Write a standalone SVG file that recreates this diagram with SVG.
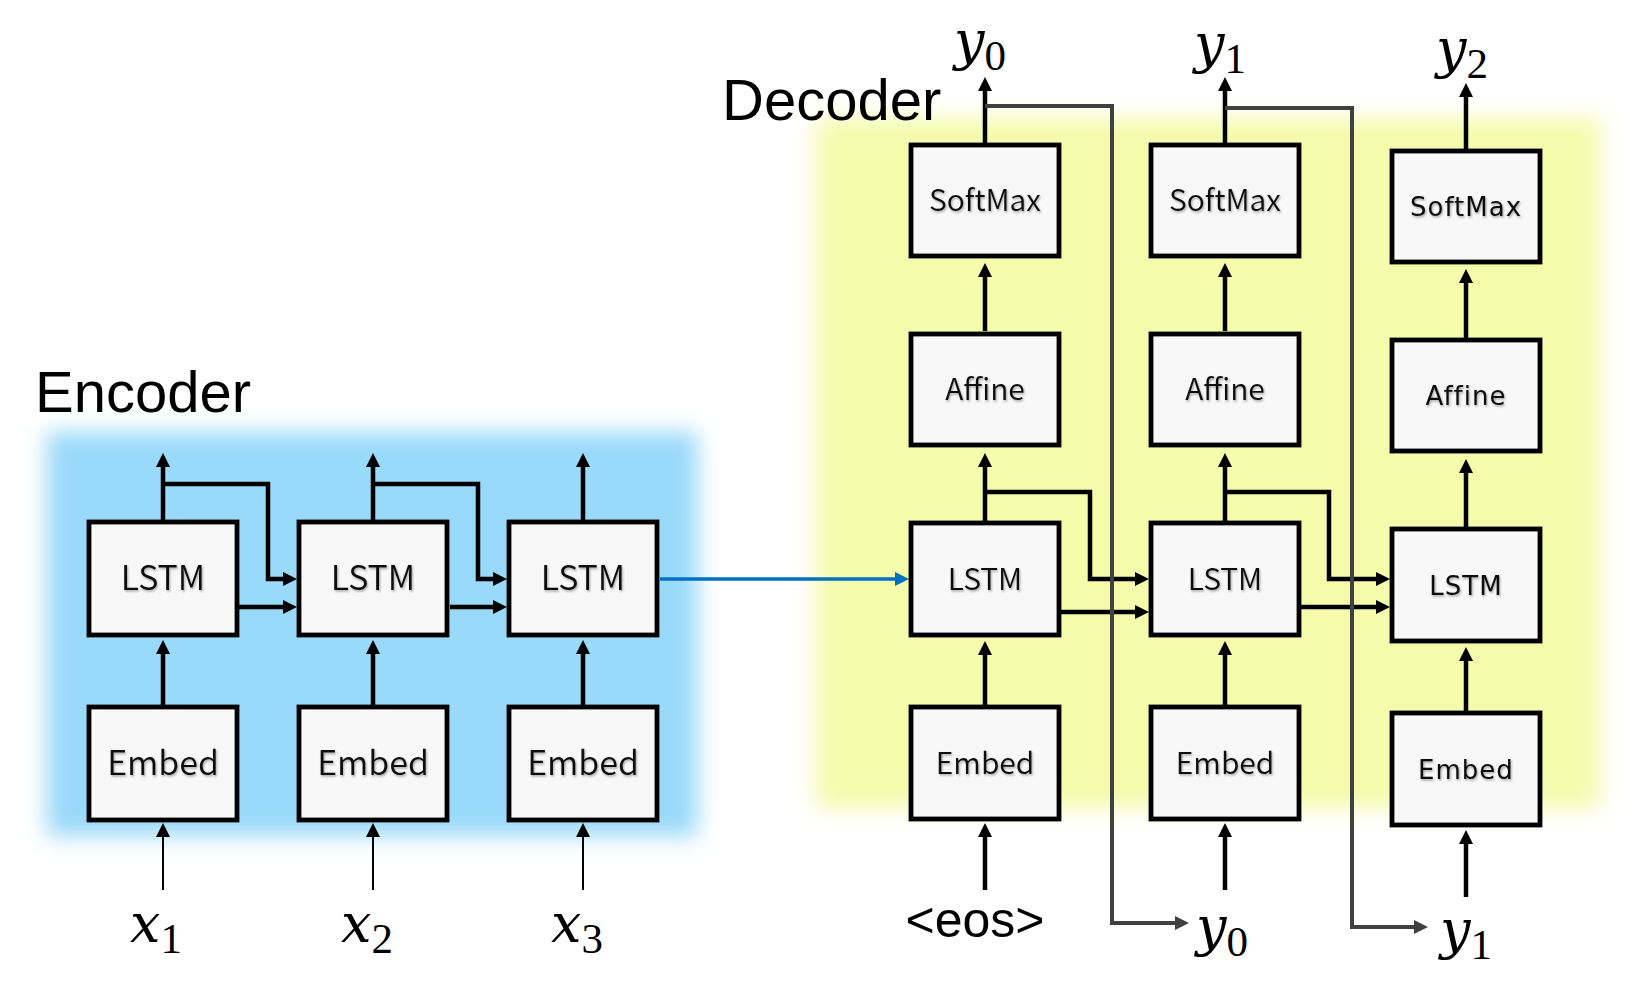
<svg xmlns="http://www.w3.org/2000/svg" width="1645" height="981" viewBox="0 0 1645 981">
<style>
.box{fill:#f8f8f8;stroke:#000;stroke-width:4.8}
.lbl{font-family:"Noto Sans CJK JP","Noto Sans",sans-serif;font-weight:350;fill:#111;text-anchor:middle;filter:url(#ts)}
.enc{font-size:34px}
.dec{font-size:30px}
.dec3{font-family:"DejaVu Sans","Liberation Sans",sans-serif;font-weight:400;font-size:26px;letter-spacing:1px}
.ar{fill:none;stroke:#000;stroke-width:4.5;marker-end:url(#ah)}
.thin{stroke-width:2}
.gray{fill:none;stroke:#404040;stroke-width:4;marker-end:url(#ahg)}
.blue{fill:none;stroke:#0070c0;stroke-width:3.5;marker-end:url(#ahb)}
.title{font-family:"Liberation Sans",Arial,sans-serif;font-size:58px;fill:#000}
.var{font-family:"DejaVu Serif","Liberation Serif",serif;font-style:italic;font-size:54px;fill:#000}
.sub{font-family:"Liberation Serif","DejaVu Serif",serif;font-style:normal;font-size:43px}
.eos{font-family:"Liberation Sans",Arial,sans-serif;font-size:50px;fill:#000;text-anchor:middle}
</style>
<defs>
<filter id="glow" x="-10%" y="-10%" width="120%" height="120%"><feGaussianBlur stdDeviation="11"/></filter>
<filter id="ts" x="-10%" y="-20%" width="120%" height="150%"><feDropShadow dx="1" dy="1.5" stdDeviation="1" flood-color="#000" flood-opacity="0.35"/></filter>
<marker id="ah" markerUnits="userSpaceOnUse" markerWidth="15" markerHeight="15" refX="4" refY="7" orient="auto"><path d="M0,0 L14,7 L0,14 z" fill="#000"/></marker>
<marker id="ahg" markerUnits="userSpaceOnUse" markerWidth="15" markerHeight="15" refX="4" refY="7" orient="auto"><path d="M0,0 L14,7 L0,14 z" fill="#404040"/></marker>
<marker id="ahb" markerUnits="userSpaceOnUse" markerWidth="15" markerHeight="15" refX="4" refY="7" orient="auto"><path d="M0,0 L14,7 L0,14 z" fill="#0070c0"/></marker>
</defs>
<rect width="1645" height="981" fill="#fff"/>
<g id="encoder-bg"><rect x="47" y="432" width="650" height="404" fill="#99d9f9" filter="url(#glow)"/></g>
<g id="decoder-bg"><rect x="816" y="118" width="784" height="690" fill="#f4fbab" filter="url(#glow)"/></g>
<text id="encoder-title" class="title" x="35" y="412">Encoder</text>
<text id="decoder-title" class="title" x="722" y="120">Decoder</text>

<g id="connectors">
<!-- encoder -->
<path class="ar" d="M163,522 V463"/>
<path class="ar" d="M373,522 V463"/>
<path class="ar" d="M583,522 V463"/>
<path class="ar" d="M163,705 V650"/>
<path class="ar" d="M373,705 V650"/>
<path class="ar" d="M583,705 V650"/>
<path class="ar thin" d="M163,890 V833"/>
<path class="ar thin" d="M373,890 V833"/>
<path class="ar thin" d="M583,890 V833"/>
<path class="ar" d="M163,484 H268 V579 H287"/>
<path class="ar" d="M239,607 H287"/>
<path class="ar" d="M373,484 H478 V579 H497"/>
<path class="ar" d="M450,607 H497"/>
<path class="blue" d="M660,579 H899"/>
<!-- decoder col1 -->
<path class="ar" d="M985,143 V87"/>
<path class="ar" d="M985,331 V273"/>
<path class="ar" d="M985,521 V463"/>
<path class="ar" d="M985,705 V651"/>
<path class="ar" d="M985,890 V833"/>
<path class="ar" d="M985,492 H1090 V579 H1139"/>
<path class="ar" d="M1060,612 H1139"/>
<!-- decoder col2 -->
<path class="ar" d="M1225,143 V87"/>
<path class="ar" d="M1225,331 V273"/>
<path class="ar" d="M1225,521 V463"/>
<path class="ar" d="M1225,705 V651"/>
<path class="ar" d="M1225,890 V833"/>
<path class="ar" d="M1225,492 H1329 V579 H1380"/>
<path class="ar" d="M1301,607 H1380"/>
<!-- decoder col3 -->
<path class="ar" d="M1466,149 V93"/>
<path class="ar" d="M1466,338 V279"/>
<path class="ar" d="M1466,527 V469"/>
<path class="ar" d="M1466,711 V657"/>
<path class="ar" d="M1466,897 V840"/>
<!-- feedback -->
<path class="gray" d="M985,106 H1112 V923 H1179"/>
<path class="gray" d="M1225,108 H1352 V927 H1418"/>
</g>

<g id="enc-lstm1"><rect class="box" x="89" y="522" width="148" height="113"/><text class="lbl enc" x="163" y="590">LSTM</text></g>
<g id="enc-lstm2"><rect class="box" x="299" y="522" width="148" height="113"/><text class="lbl enc" x="373" y="590">LSTM</text></g>
<g id="enc-lstm3"><rect class="box" x="509" y="522" width="148" height="113"/><text class="lbl enc" x="583" y="590">LSTM</text></g>
<g id="enc-embed1"><rect class="box" x="89" y="707" width="148" height="113"/><text class="lbl enc" x="163" y="775">Embed</text></g>
<g id="enc-embed2"><rect class="box" x="299" y="707" width="148" height="113"/><text class="lbl enc" x="373" y="775">Embed</text></g>
<g id="enc-embed3"><rect class="box" x="509" y="707" width="148" height="113"/><text class="lbl enc" x="583" y="775">Embed</text></g>

<g id="dec-softmax1"><rect class="box" x="911" y="145" width="148" height="111"/><text class="lbl dec" x="985" y="211">SoftMax</text></g>
<g id="dec-affine1"><rect class="box" x="911" y="334" width="148" height="111"/><text class="lbl dec" x="985" y="400">Affine</text></g>
<g id="dec-lstm1"><rect class="box" x="911" y="523" width="148" height="112"/><text class="lbl dec" x="985" y="590">LSTM</text></g>
<g id="dec-embed1"><rect class="box" x="911" y="707" width="148" height="112"/><text class="lbl dec" x="985" y="774">Embed</text></g>

<g id="dec-softmax2"><rect class="box" x="1151" y="145" width="148" height="111"/><text class="lbl dec" x="1225" y="211">SoftMax</text></g>
<g id="dec-affine2"><rect class="box" x="1151" y="334" width="148" height="111"/><text class="lbl dec" x="1225" y="400">Affine</text></g>
<g id="dec-lstm2"><rect class="box" x="1151" y="523" width="148" height="112"/><text class="lbl dec" x="1225" y="590">LSTM</text></g>
<g id="dec-embed2"><rect class="box" x="1151" y="707" width="148" height="112"/><text class="lbl dec" x="1225" y="774">Embed</text></g>

<g id="dec-softmax3"><rect class="box" x="1392" y="151" width="148" height="111"/><text class="lbl dec3" x="1466" y="216">SoftMax</text></g>
<g id="dec-affine3"><rect class="box" x="1392" y="340" width="148" height="111"/><text class="lbl dec3" x="1466" y="405">Affine</text></g>
<g id="dec-lstm3"><rect class="box" x="1392" y="529" width="148" height="112"/><text class="lbl dec3" x="1466" y="595">LSTM</text></g>
<g id="dec-embed3"><rect class="box" x="1392" y="713" width="148" height="112"/><text class="lbl dec3" x="1466" y="779">Embed</text></g>

<g id="labels">
<text class="var" x="130" y="942">x<tspan class="sub" dy="11">1</tspan></text>
<text class="var" x="341" y="942">x<tspan class="sub" dy="11">2</tspan></text>
<text class="var" x="551" y="942">x<tspan class="sub" dy="11">3</tspan></text>
<text class="var" x="954" y="59">y<tspan class="sub" dy="11">0</tspan></text>
<text class="var" x="1194" y="62">y<tspan class="sub" dy="11">1</tspan></text>
<text class="var" x="1436" y="67">y<tspan class="sub" dy="11">2</tspan></text>
<text class="eos" x="975" y="937">&lt;eos&gt;</text>
<text class="var" x="1196" y="945">y<tspan class="sub" dy="11">0</tspan></text>
<text class="var" x="1440" y="948">y<tspan class="sub" dy="11">1</tspan></text>
</g>
</svg>
